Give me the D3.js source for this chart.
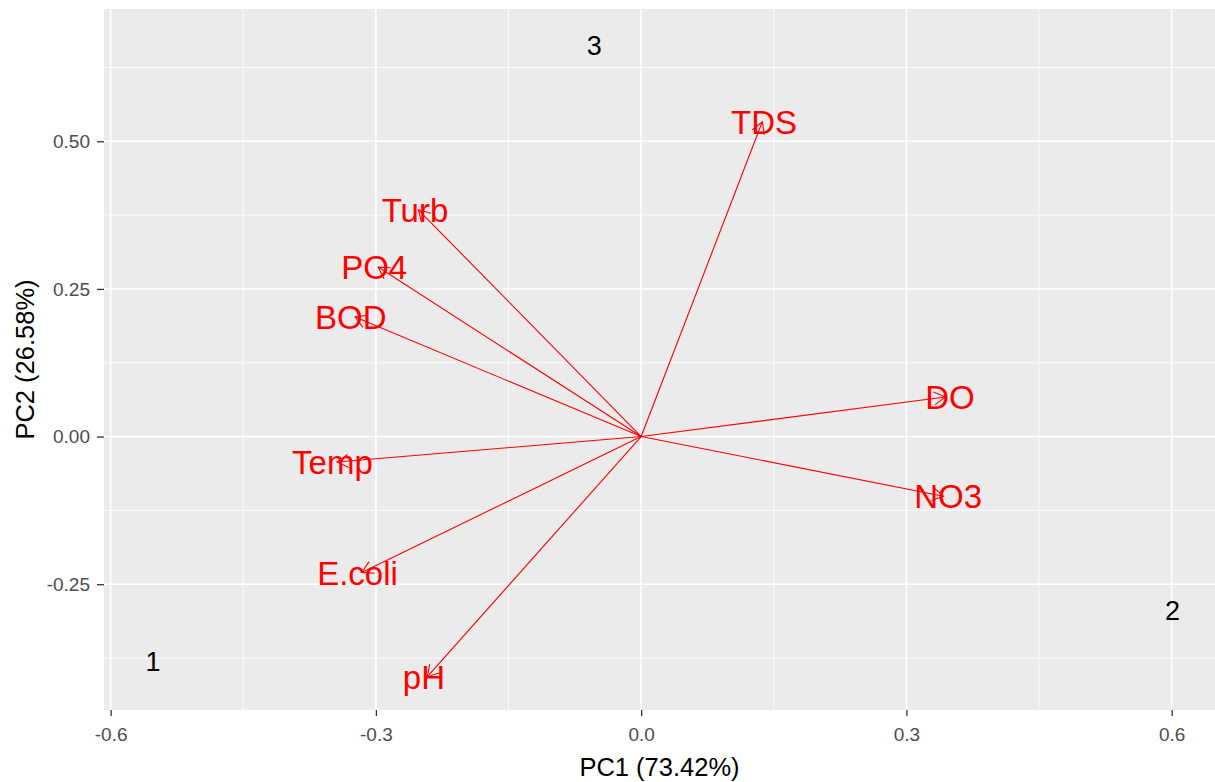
<!DOCTYPE html>
<html>
<head>
<meta charset="utf-8">
<script src="https://cdn.jsdelivr.net/npm/d3@7"></script>
<style>
  html, body { margin: 0; padding: 0; background: #ffffff; }
  svg { display: block; font-family: "Liberation Sans", Arial, sans-serif; }
</style>
</head>
<body>
<svg id="chart" width="1215" height="782"></svg>
<script>
// PCA variable loadings (PC1, PC2)
const variables = ["TDS", "Turb", "PO4", "BOD", "DO", "NO3", "Temp", "E.coli", "pH"];
const loadPC1 = [0.137, -0.252, -0.2975, -0.3235, 0.344, 0.342, -0.344, -0.316, -0.242];
const loadPC2 = [0.533, 0.384, 0.287, 0.2025, 0.067, -0.101, -0.043, -0.23, -0.407];

// Cluster centre labels
const clusters = ["1", "2", "3"];
const clusterPC1 = [-0.552, 0.601, -0.053];
const clusterPC2 = [-0.380, -0.294, 0.663];

// Axis ticks
const xMajor = [-0.6, -0.3, 0.0, 0.3, 0.6];
const xMajorLabels = ["-0.6", "-0.3", "0.0", "0.3", "0.6"];
const xMinor = [-0.45, -0.15, 0.15, 0.45];
const yMajor = [-0.25, 0.0, 0.25, 0.5];
const yMajorLabels = ["-0.25", "0.00", "0.25", "0.50"];
const yMinor = [-0.375, -0.125, 0.125, 0.375, 0.625];

const xTitle = "PC1 (73.42%)";
const yTitle = "PC2 (26.58%)";

const svg = d3.select("#chart");
const panel = { left: 104, top: 9, right: 1215, bottom: 710 };

const x = d3.scaleLinear().domain([-0.6075, 0.649]).range([panel.left, panel.right]);
const y = d3.scaleLinear().domain([-0.463, 0.724]).range([panel.bottom, panel.top]);

// panel background
svg.append("rect")
  .attr("x", panel.left).attr("y", panel.top)
  .attr("width", panel.right - panel.left).attr("height", panel.bottom - panel.top)
  .attr("fill", "#EBEBEB");

const grid = svg.append("g");
// minor grid
grid.selectAll(".xmin").data(xMinor).join("line")
  .attr("x1", d => x(d)).attr("x2", d => x(d))
  .attr("y1", panel.top).attr("y2", panel.bottom)
  .attr("stroke", "#fff").attr("stroke-width", 0.8);
grid.selectAll(".ymin").data(yMinor).join("line")
  .attr("y1", d => y(d)).attr("y2", d => y(d))
  .attr("x1", panel.left).attr("x2", panel.right)
  .attr("stroke", "#fff").attr("stroke-width", 0.8);
// major grid
grid.selectAll(".xmaj").data(xMajor).join("line")
  .attr("x1", d => x(d)).attr("x2", d => x(d))
  .attr("y1", panel.top).attr("y2", panel.bottom)
  .attr("stroke", "#fff").attr("stroke-width", 1.6);
grid.selectAll(".ymaj").data(yMajor).join("line")
  .attr("y1", d => y(d)).attr("y2", d => y(d))
  .attr("x1", panel.left).attr("x2", panel.right)
  .attr("stroke", "#fff").attr("stroke-width", 1.6);

// axes
const xAxis = d3.axisBottom(x).tickValues(xMajor)
  .tickFormat((d, i) => xMajorLabels[i]).tickSize(6).tickPadding(12);
const gx = svg.append("g").attr("transform", `translate(0,${panel.bottom})`).call(xAxis);
const yAxis = d3.axisLeft(y).tickValues(yMajor)
  .tickFormat((d, i) => yMajorLabels[i]).tickSize(7).tickPadding(7);
const gy = svg.append("g").attr("transform", `translate(${panel.left},0)`).call(yAxis);
[gx, gy].forEach(g => {
  g.select(".domain").remove();
  g.selectAll(".tick line").attr("stroke", "#333333").attr("stroke-width", 1.3);
  g.selectAll(".tick text").attr("fill", "#4D4D4D")
    .style("font-size", "19px").style("font-family", "'Liberation Sans', Arial, sans-serif");
});

// axis titles
svg.append("text")
  .attr("x", (panel.left + panel.right) / 2).attr("y", 776)
  .attr("text-anchor", "middle").attr("fill", "#000")
  .style("font-size", "25.5px").text(xTitle);
svg.append("text")
  .attr("transform", `translate(34,${(panel.top + panel.bottom) / 2}) rotate(-90)`)
  .attr("text-anchor", "middle").attr("fill", "#000")
  .style("font-size", "25.5px").text(yTitle);

// loading arrows
const loadings = variables.map((v, i) => ({ name: v, pc1: loadPC1[i], pc2: loadPC2[i] }));
const headLen = 13, headAng = Math.PI / 6;
const arrows = svg.append("g").attr("stroke", "#FF0000").attr("stroke-width", 1.1).attr("fill", "none");
loadings.forEach(d => {
  const x0 = x(0), y0 = y(0), x1 = x(d.pc1), y1 = y(d.pc2);
  arrows.append("line").attr("x1", x0).attr("y1", y0).attr("x2", x1).attr("y2", y1);
  const ang = Math.atan2(y0 - y1, x0 - x1);
  const pts = [
    [x1 + headLen * Math.cos(ang + headAng), y1 + headLen * Math.sin(ang + headAng)],
    [x1, y1],
    [x1 + headLen * Math.cos(ang - headAng), y1 + headLen * Math.sin(ang - headAng)]
  ];
  arrows.append("path").attr("d", d3.line()(pts));
});

// variable labels at the arrow tips
svg.append("g").selectAll("text").data(loadings).join("text")
  .attr("x", d => x(d.pc1 * 1.015)).attr("y", d => y(d.pc2))
  .attr("dy", "0.37em").attr("text-anchor", "middle")
  .attr("fill", "#FF0000").style("font-size", "33px")
  .text(d => d.name);

// cluster labels
const clusterData = clusters.map((c, i) => ({ c, pc1: clusterPC1[i], pc2: clusterPC2[i] }));
svg.append("g").selectAll("text").data(clusterData).join("text")
  .attr("x", d => x(d.pc1)).attr("y", d => y(d.pc2))
  .attr("dy", "0.36em").attr("text-anchor", "middle")
  .attr("fill", "#000").style("font-size", "27px")
  .text(d => d.c);
</script>
</body>
</html>
